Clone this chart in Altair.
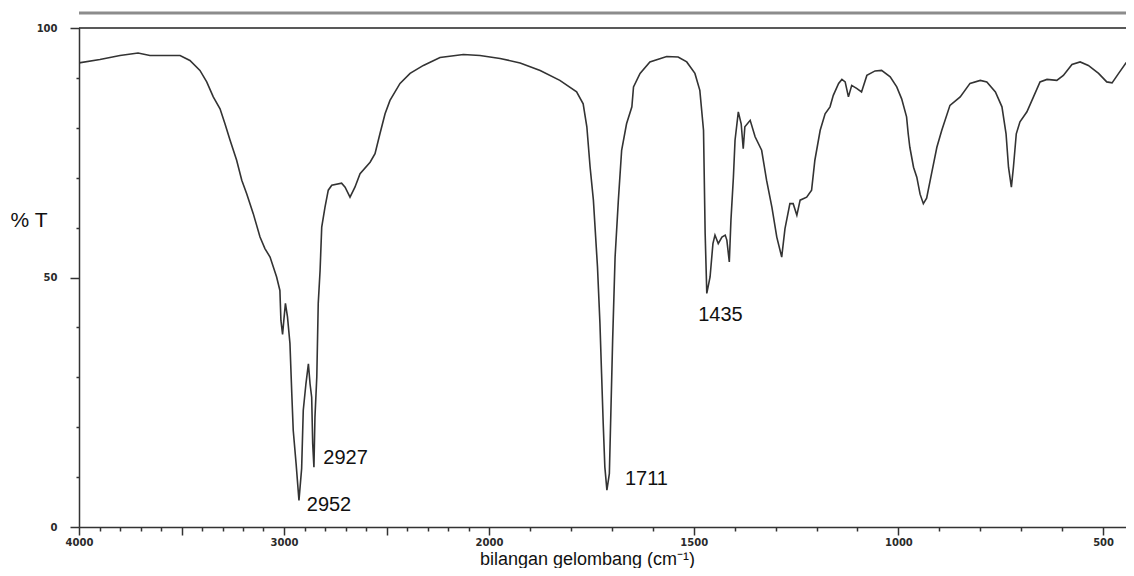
import altair as alt
import pandas as pd

# wavenumber (cm^-1) and %T
wavenumber = [
    4000, 3898, 3800, 3712, 3654, 3556, 3507, 3459, 3410, 3377,
    3345, 3312, 3288, 3263, 3231, 3206, 3182, 3150, 3117, 3093,
    3068, 3036, 3020, 3015, 3007, 3000, 2993, 2983, 2971, 2962,
    2955, 2941, 2927, 2914, 2906, 2893, 2881, 2873, 2865, 2860,
    2854, 2849, 2840, 2833, 2824, 2816, 2800, 2784, 2767, 2719,
    2702, 2678, 2654, 2629, 2580, 2556, 2532, 2507, 2483, 2434,
    2385, 2320, 2239, 2125, 2044, 1973, 1924, 1875, 1827, 1786,
    1770, 1761, 1753, 1745, 1735, 1729, 1725, 1721, 1717, 1712,
    1706, 1703, 1698, 1692, 1684, 1676, 1664, 1651, 1647, 1631,
    1607, 1566, 1538, 1517, 1497, 1485, 1476, 1472, 1468, 1460,
    1453, 1448, 1440, 1431, 1423, 1419, 1413, 1409, 1403, 1399,
    1391, 1384, 1379, 1375, 1362, 1350, 1334, 1322, 1309, 1297,
    1285, 1277, 1265, 1257, 1248, 1240, 1224, 1212, 1204, 1191,
    1179, 1167, 1159, 1146, 1138, 1130, 1122, 1114, 1102, 1090,
    1077, 1057, 1041, 1020, 1004, 992, 980, 976, 972, 963,
    955, 947, 939, 931, 919, 906, 894, 874, 849, 825,
    800, 784, 763, 747, 737, 731, 724, 719, 712, 703,
    686, 670, 654, 637, 613, 597, 576, 556, 536, 511,
    491, 478, 462, 445, 425,
]
transmittance = [
    93.0, 93.7, 94.5, 95.0, 94.5, 94.5, 94.5, 93.5, 91.5, 89.2,
    86.2, 83.8, 80.8, 77.5, 73.5, 69.5, 66.8, 62.8, 58.1, 55.8,
    54.1, 50.1, 47.4, 41.4, 38.6, 41.8, 44.8, 42.1, 36.8, 26.7,
    19.4, 12.7, 5.3, 11.7, 23.4, 28.7, 32.7, 28.7, 26.0, 16.7,
    12.0, 22.0, 30.1, 44.8, 51.4, 60.1, 64.1, 67.5, 68.5, 68.9,
    68.1, 66.1, 68.1, 70.8, 73.1, 74.8, 78.8, 82.8, 85.5, 88.9,
    90.9, 92.5, 94.1, 94.7, 94.5, 93.9, 93.0, 91.5, 89.5, 87.2,
    84.8, 80.2, 72.1, 65.5, 52.1, 40.8, 30.7, 20.7, 12.0, 7.4,
    10.7, 20.7, 37.4, 54.1, 65.5, 75.5, 80.8, 84.2, 88.2, 90.9,
    93.2, 94.3, 94.2, 93.2, 90.9, 87.5, 79.5, 58.8, 46.8, 50.1,
    56.8, 58.5, 56.8, 58.1, 58.5, 57.5, 53.1, 61.5, 70.1, 77.5,
    83.2, 80.8, 75.8, 80.2, 81.5, 78.2, 75.5, 69.5, 64.1, 58.1,
    54.1, 59.8, 64.8, 64.8, 62.5, 65.5, 66.1, 67.5, 73.5, 79.5,
    82.8, 84.2, 86.5, 88.9, 89.7, 89.2, 86.2, 88.5, 87.9, 87.2,
    90.5, 91.4, 91.5, 90.2, 88.2, 85.8, 82.2, 78.8, 76.1, 72.1,
    70.1, 66.7, 64.8, 65.9, 70.8, 76.1, 79.5, 84.5, 86.2, 88.9,
    89.5, 89.2, 87.2, 84.2, 78.8, 72.1, 68.1, 72.1, 78.8, 81.2,
    83.2, 86.2, 89.2, 89.7, 89.5, 90.5, 92.7, 93.2, 92.5, 90.9,
    89.2, 89.0, 90.9, 92.9, 94.9,
]

# peak annotations
peak_labels = ["2952", "2927", "1711", "1435"]
peak_label_wn = [2889, 2808, 1668, 1489]
peak_label_t = [3.2, 12.7, 8.4, 41.2]

# axis ticks
x_ticks = [4000, 3900, 3800, 3700, 3600, 3500, 3400, 3300, 3200, 3100,
           3000, 2900, 2800, 2700, 2600, 2500, 2400, 2300, 2200, 2100,
           2000, 1900, 1800, 1700, 1600, 1500, 1400, 1300, 1200, 1100,
           1000, 900, 800, 700, 600, 500]
x_labelled = [4000, 3000, 2000, 1500, 1000, 500]
y_ticks = [0, 10, 20, 30, 40, 50, 60, 70, 80, 90, 100]

# frame lines (top border at 100 %T, grey band above)
frame_wn = [4000]
frame_wn2 = [424]
frame_top = [100]
band_top = [103]

spec = pd.DataFrame({"wn": wavenumber, "T": transmittance})
ann = pd.DataFrame({"wn": peak_label_wn, "T": peak_label_t, "label": peak_labels})
frame = pd.DataFrame({"wn": frame_wn, "wn2": frame_wn2, "T": frame_top})
band = pd.DataFrame({"wn": frame_wn, "wn2": frame_wn2, "T": band_top})

AX = "#333333"
# the spectrum uses a 2x expanded scale below 2000 cm^-1
xscale = alt.Scale(domain=[4000, 2000, 444], range=[0, 410, 1047], nice=False, zero=False)
yscale = alt.Scale(domain=[0, 100], nice=False, zero=False)

lab_list = ",".join(str(v) for v in x_labelled)
xaxis = alt.Axis(
    values=x_ticks,
    format="d",
    labelExpr=f"indexof([{lab_list}], datum.value) >= 0 ? datum.label : ''",
    tickSize={"condition": {"test": "datum.value % 500 === 0", "value": 8}, "value": 4},
    tickColor=AX, tickWidth=1.5,
    domainColor=AX, domainWidth=1.5,
    labelFont="DejaVu Sans", labelFontSize=10, labelFontWeight="bold", labelColor="#2a2a2a",
    labelPadding=2, labelOverlap=False, labelFlush=False, labelBound=False,
    grid=False,
    titleFont="Liberation Sans", titleFontSize=18, titleFontWeight="normal",
    titleColor="#111111", titleAlign="center", titleBaseline="alphabetic",
    titleX=508, titleY=37,
)
yaxis = alt.Axis(
    values=y_ticks,
    format="d",
    labelExpr="datum.value % 50 === 0 ? datum.label : ''",
    tickSize={"condition": {"test": "datum.value % 50 === 0", "value": 9}, "value": 3},
    tickColor=AX, tickWidth=1.5,
    domainColor=AX, domainWidth=1.5,
    labelFont="DejaVu Sans", labelFontSize=10, labelFontWeight="bold", labelColor="#2a2a2a",
    labelPadding=13, labelOverlap=False, labelFlush=False, labelBound=False,
    grid=False,
    titleFont="Liberation Sans", titleFontSize=21, titleFontWeight="normal",
    titleColor="#111111", titleAngle=0, titleAlign="left", titleBaseline="alphabetic",
    titleX=-69, titleY=198,
)

XT = "bilangan gelombang (cm⁻¹)"
YT = "% T"

def xenc():
    return alt.X("wn:Q", scale=xscale, axis=xaxis, title=XT)

def yenc():
    return alt.Y("T:Q", scale=yscale, axis=yaxis, title=YT)

line = alt.Chart(spec).mark_line(color="#333333", strokeWidth=1.6, clip=True).encode(x=xenc(), y=yenc())

top_rule = alt.Chart(frame).mark_rule(color="#222222", strokeWidth=1.5).encode(
    x=xenc(), x2="wn2:Q", y=yenc()
)
band_rule = alt.Chart(band).mark_rule(color="#8c8c8c", strokeWidth=3).encode(
    x=xenc(), x2="wn2:Q", y=yenc()
)
labels = alt.Chart(ann).mark_text(
    align="left", baseline="alphabetic", font="Liberation Sans", fontSize=20, color="#111111"
).encode(x=xenc(), y=yenc(), text="label:N")

chart = (
    alt.layer(band_rule, top_rule, line, labels)
    .properties(
        width=1047,
        height=499,
        padding={"left": 71, "top": 20, "right": 0, "bottom": 41},
        autosize=alt.AutoSizeParams(type="none"),
        background="white",
    )
    .configure_view(strokeWidth=0)
)

chart.save("out.html", embed_options={"renderer": "svg", "actions": False})
